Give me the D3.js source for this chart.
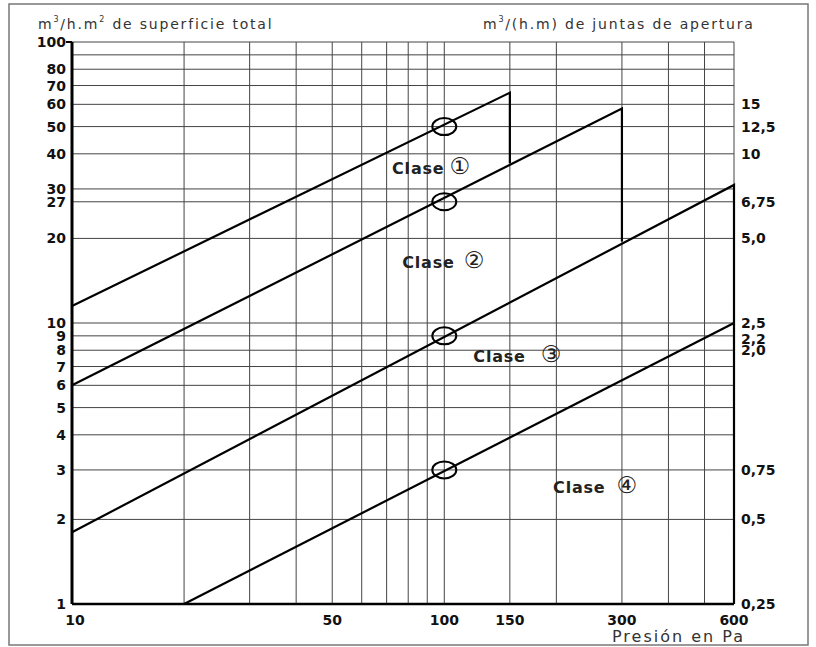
<!DOCTYPE html>
<html>
<head>
<meta charset="utf-8">
<script src="https://cdn.jsdelivr.net/npm/d3@7"></script>
<style>
  body { margin: 0; background: #fff; }
  svg { font-family: "DejaVu Sans", Verdana, sans-serif; }
  .grid line { stroke: #444; stroke-width: 1; }
  .lbl { font-size: 14px; font-weight: bold; fill: #111; }
  .hdr { font-size: 14px; fill: #333; letter-spacing: 1.8px; }
  .clase { font-size: 16px; font-weight: bold; fill: #222; letter-spacing: 0.8px; }
</style>
</head>
<body>
<div id="chart"></div>
<script>
// Chart data
var xGrid = [10, 20, 30, 40, 50, 60, 70, 80, 90, 100, 150, 200, 300, 400, 500, 600];
var xTickLabels = [10, 50, 100, 150, 300, 600];
var yGrid = [2, 3, 4, 5, 6, 7, 8, 9, 10, 20, 27, 30, 40, 50, 60, 70, 80, 90, 100];
var yTickLabels = [1, 2, 3, 4, 5, 6, 7, 8, 9, 10, 20, 27, 30, 40, 50, 60, 70, 80, 100];
var rightTicks = [0.25, 0.5, 0.75, 2.0, 2.2, 2.5, 5.0, 6.75, 10, 12.5, 15];
var rightTickLabels = ["0,25", "0,5", "0,75", "2,0", "2,2", "2,5", "5,0", "6,75", "10", "12,5", "15"];

var classNames = ["Clase", "Clase", "Clase", "Clase"];
var classMarks = ["\u2460", "\u2461", "\u2462", "\u2463"];
var class1 = [[10, 11.5], [150, 66], [150, 37]];
var class2 = [[10, 6], [300, 58], [300, 19.5]];
var class3 = [[10, 1.8], [600, 31], [600, 1]];
var class4 = [[20, 1], [600, 10]];
var refPressure = 100;
var refValues = [50, 27, 9, 3];
// where each class label sits (pressure, value) and gap before the circled number
var labelAt = [[72.4, 35.6], [77.1, 16.5], [119.7, 7.63], [196, 2.61]];
var markGap = [5, 9, 15, 11];

var svgWidth = 816;
var svgHeight = 647;

var margin = { top: 42, right: 82, bottom: 43, left: 72 };
var width = svgWidth - margin.left - margin.right;
var height = svgHeight - margin.top - margin.bottom;

var svg = d3.select("#chart")
    .append("svg")
    .attr("width", svgWidth)
    .attr("height", svgHeight);

// outer frame
svg.append("rect")
    .attr("x", 9).attr("y", 4)
    .attr("width", 799).attr("height", 641)
    .attr("fill", "none")
    .attr("stroke", "#777")
    .attr("stroke-width", 1.5);

var chartGroup = svg.append("g")
    .attr("transform", `translate(${margin.left}, ${margin.top})`);

var xScale = d3.scaleLog().domain([10, 600]).range([0, width]);
var yScale = d3.scaleLog().domain([1, 100]).range([height, 0]);
var yRight = d3.scaleLog().domain([0.25, 25]).range([height, 0]);

// grid
var grid = chartGroup.append("g").attr("class", "grid");
grid.selectAll(".vg")
    .data(xGrid)
    .enter()
    .append("line")
    .attr("x1", d => xScale(d)).attr("x2", d => xScale(d))
    .attr("y1", 0).attr("y2", height);
grid.selectAll(".hg")
    .data(yGrid)
    .enter()
    .append("line")
    .attr("x1", 0).attr("x2", width)
    .attr("y1", d => yScale(d)).attr("y2", d => yScale(d));

// axes lines
chartGroup.append("line")
    .attr("x1", 0).attr("x2", 0)
    .attr("y1", 0).attr("y2", height)
    .attr("stroke", "#000").attr("stroke-width", 3);
chartGroup.append("line")
    .attr("x1", 0).attr("x2", width)
    .attr("y1", height).attr("y2", height)
    .attr("stroke", "#000").attr("stroke-width", 2.5);
chartGroup.append("line")
    .attr("x1", -6).attr("x2", 0)
    .attr("y1", 0).attr("y2", 0)
    .attr("stroke", "#000").attr("stroke-width", 2);

// left tick labels
chartGroup.selectAll(".ylab")
    .data(yTickLabels)
    .enter()
    .append("text")
    .attr("class", "lbl")
    .attr("x", -6)
    .attr("y", d => yScale(d))
    .attr("dy", "0.36em")
    .attr("text-anchor", "end")
    .text(d => d);

// bottom tick labels
chartGroup.selectAll(".xlab")
    .data(xTickLabels)
    .enter()
    .append("text")
    .attr("class", "lbl")
    .attr("x", d => xScale(d) + (d === 10 ? 3 : 0))
    .attr("y", height + 21)
    .attr("text-anchor", "middle")
    .text(d => d);

// right tick labels
chartGroup.selectAll(".rlab")
    .data(rightTicks)
    .enter()
    .append("text")
    .attr("class", "lbl")
    .attr("x", width + 7)
    .attr("y", d => yRight(d))
    .attr("dy", "0.36em")
    .text((d, i) => rightTickLabels[i]);

// class lines
var line = d3.line()
    .x(d => xScale(d[0]))
    .y(d => yScale(d[1]));

[class1, class2, class3, class4].forEach(function(cls) {
    chartGroup.append("path")
        .datum(cls)
        .attr("d", line)
        .attr("fill", "none")
        .attr("stroke", "#000")
        .attr("stroke-width", 2.2)
        .attr("stroke-linejoin", "miter");
});

// reference circles at 100 Pa
chartGroup.selectAll(".ref")
    .data(refValues)
    .enter()
    .append("ellipse")
    .attr("cx", xScale(refPressure))
    .attr("cy", d => yScale(d))
    .attr("rx", 12)
    .attr("ry", 8.5)
    .attr("fill", "none")
    .attr("stroke", "#000")
    .attr("stroke-width", 2);

// class labels
var labels = chartGroup.selectAll(".clase")
    .data(labelAt)
    .enter()
    .append("text")
    .attr("class", "clase")
    .attr("x", d => xScale(d[0]))
    .attr("y", d => yScale(d[1]))
    .attr("dy", "0.36em");
labels.append("tspan").text((d, i) => classNames[i]);
labels.append("tspan")
    .attr("dx", (d, i) => markGap[i])
    .attr("font-weight", "normal")
    .attr("font-size", 23)
    .style("letter-spacing", "0px")
    .text((d, i) => classMarks[i]);

// headers
svg.append("text")
    .attr("class", "hdr")
    .attr("x", 38).attr("y", 29)
    .html('m<tspan font-size="8" dy="-7">3</tspan><tspan dy="7">/h.m</tspan><tspan font-size="8" dy="-7">2</tspan><tspan dy="7"> de superficie total</tspan>');

svg.append("text")
    .attr("class", "hdr")
    .attr("x", 483).attr("y", 29)
    .html('m<tspan font-size="8" dy="-7">3</tspan><tspan dy="7">/(h.m) de juntas de apertura</tspan>');

svg.append("text")
    .attr("class", "hdr")
    .attr("x", 612).attr("y", 642)
    .style("font-size", "16px")
    .style("letter-spacing", "2px")
    .text("Presión en Pa");
</script>
</body>
</html>
